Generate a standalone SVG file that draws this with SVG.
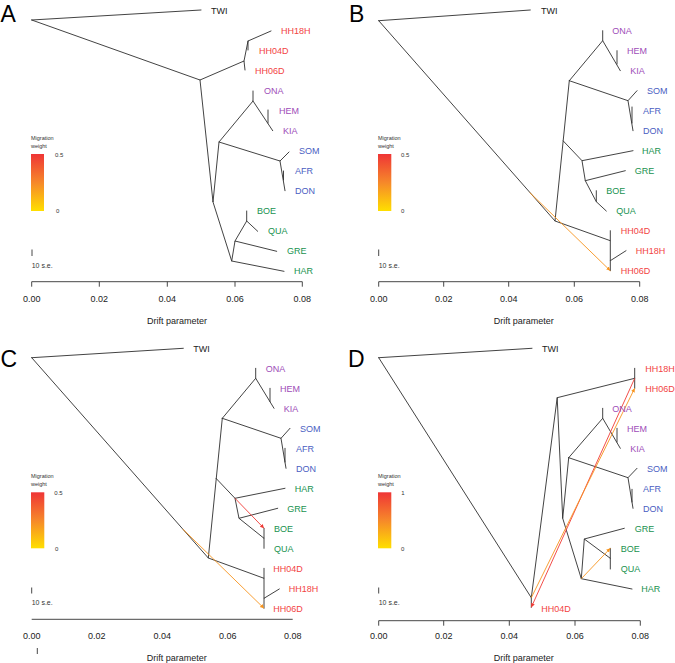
<svg xmlns="http://www.w3.org/2000/svg" width="675" height="663" viewBox="0 0 675 663">
<style>
text{font-family:"Liberation Sans",Arial,sans-serif;}
.e{stroke:#2e2e2e;stroke-width:0.9;fill:none;stroke-linecap:round;}
.ax{stroke:#333;stroke-width:0.9;fill:none;}
.mr{stroke:#F03A35;stroke-width:0.9;fill:none;marker-end:url(#ar);}
.mo{stroke:#F7941E;stroke-width:0.9;fill:none;marker-end:url(#ao);}
.big{font-size:23px;fill:#000;}
.lb{font-size:9px;}
.k{fill:#222;}
.r{fill:#F24343;}
.p{fill:#9E4DB8;}
.b{fill:#4A60C2;}
.g{fill:#18924F;}
.tk{font-size:9px;fill:#222;text-anchor:middle;}
.leg{font-size:5.5px;fill:#333;}
.lv{font-size:6px;fill:#333;}
.se{font-size:7px;fill:#333;}
</style>
<defs>
<linearGradient id="grad" x1="0" y1="0" x2="0" y2="1">
<stop offset="0" stop-color="#EF3536"/>
<stop offset="0.5" stop-color="#F6882A"/>
<stop offset="1" stop-color="#FFDF00"/>
</linearGradient>
<marker id="ar" markerWidth="5" markerHeight="5" refX="4" refY="2" orient="auto" markerUnits="userSpaceOnUse"><path d="M0,0 L4,2 L0,4 Z" fill="#F03A35"/></marker>
<marker id="ao" markerWidth="5" markerHeight="5" refX="4" refY="2" orient="auto" markerUnits="userSpaceOnUse"><path d="M0,0 L4,2 L0,4 Z" fill="#F7941E"/></marker>
</defs>

<!-- ================= PANEL A ================= -->
<g id="panelA">
<text class="big" x="0.5" y="21.5">A</text>
<g id="A-connectors">
<path class="e" d="M31.7,20 L201,10"/>
<path class="e" d="M31.7,20 L200,80 L244,61 L245,70"/>
<path class="e" d="M244,61 L248,41 L271,31 M248,41 L248,50"/>
<path class="e" d="M200,80 L213,202 L219,142 L253,101 L253,91 M253,101 L272.7,130.7 M268,110 L268,123"/>
<path class="e" d="M219,142 L280,161 L289,152 M280,161 L285,190.7 M283.5,171 L283.5,180"/>
<path class="e" d="M213,202 L231.7,261 L284,271.3 M231.7,261 L235,241 L276.7,251.3 M235,241 L246.7,221 L246.7,211 M246.7,221 L257.7,231.3"/>
</g>
<g id="A-TWI"><text class="lb k" x="211" y="13.7">TWI</text></g>
<g id="A-HH18H"><text class="lb r" x="281" y="34.2">HH18H</text></g>
<g id="A-HH04D"><text class="lb r" x="259" y="54.2">HH04D</text></g>
<g id="A-HH06D"><text class="lb r" x="255" y="74.2">HH06D</text></g>
<g id="A-ONA"><text class="lb p" x="264" y="94.2">ONA</text></g>
<g id="A-HEM"><text class="lb p" x="279" y="114.2">HEM</text></g>
<g id="A-KIA"><text class="lb p" x="283" y="134.2">KIA</text></g>
<g id="A-SOM"><text class="lb b" x="299" y="154.2">SOM</text></g>
<g id="A-AFR"><text class="lb b" x="295" y="174.2">AFR</text></g>
<g id="A-DON"><text class="lb b" x="295" y="194.2">DON</text></g>
<g id="A-BOE"><text class="lb g" x="257" y="214.2">BOE</text></g>
<g id="A-QUA"><text class="lb g" x="268" y="234.2">QUA</text></g>
<g id="A-GRE"><text class="lb g" x="287" y="254.2">GRE</text></g>
<g id="A-HAR"><text class="lb g" x="294" y="274.2">HAR</text></g>
<g id="A-legend">
<text class="leg" x="31" y="140">Migration</text>
<text class="leg" x="31" y="148">weight</text>
<rect x="31" y="154" width="13" height="57" fill="url(#grad)"/>
<text class="lv" x="55" y="157">0.5</text>
<text class="lv" x="56" y="213">0</text>
<line class="ax" x1="32" y1="249.5" x2="32" y2="256"/>
<text class="se" x="31.7" y="267.5">10 s.e.</text>
</g>
<g id="A-axis">
<path class="ax" d="M31.7,281.7 H302.3 M31.7,281.7 v5 M99.3,281.7 v5 M167.3,281.7 v5 M235,281.7 v5 M302.3,281.7 v5"/>
<text class="tk" x="31.7" y="301.5">0.00</text>
<text class="tk" x="99.3" y="301.5">0.02</text>
<text class="tk" x="167.3" y="301.5">0.04</text>
<text class="tk" x="235" y="301.5">0.06</text>
<text class="tk" x="302.3" y="301.5">0.08</text>
<text class="tk" x="177" y="324">Drift parameter</text>
</g>
</g>

<!-- ================= PANEL B ================= -->
<g id="panelB">
<text class="big" x="349" y="21.5">B</text>
<g id="B-connectors">
<path class="e" d="M378.7,20.7 L530.3,10"/>
<path class="e" d="M378.7,20.7 L555,221 L569.3,80.7"/>
<path class="e" d="M569.3,80.7 L602.7,40.7 L602.7,30.7 M602.7,40.7 L620.3,70.7 M617,50.7 L617,64"/>
<path class="e" d="M569.3,80.7 L628,100.7 L637,90.7 M628,100.7 L633,130.7 M632,107 L632,123"/>
<path class="e" d="M563.3,141 L582,160.7 L633,150.7 M582,160.7 L585.3,180.7 L625.3,170.7 M585.3,180.7 L596.3,201.7 L596.3,190.7 M596.3,201.7 L606.3,211"/>
<path class="e" d="M555,221 L610.3,240.7 L610.3,230.7 M610.3,240.7 L610.3,260.7 L626,250.7 M610.3,260.7 L610.3,270.7"/>
</g>
<g id="B-migration">
<path class="mo" d="M529.7,192.5 L610.3,270.7"/>
</g>
<g id="B-TWI"><text class="lb k" x="541" y="13.7">TWI</text></g>
<g id="B-ONA"><text class="lb p" x="612.3" y="33.9">ONA</text></g>
<g id="B-HEM"><text class="lb p" x="627" y="53.9">HEM</text></g>
<g id="B-KIA"><text class="lb p" x="630.3" y="73.9">KIA</text></g>
<g id="B-SOM"><text class="lb b" x="647" y="93.9">SOM</text></g>
<g id="B-AFR"><text class="lb b" x="643" y="113.9">AFR</text></g>
<g id="B-DON"><text class="lb b" x="643" y="133.9">DON</text></g>
<g id="B-HAR"><text class="lb g" x="642" y="153.9">HAR</text></g>
<g id="B-GRE"><text class="lb g" x="634.7" y="173.9">GRE</text></g>
<g id="B-BOE"><text class="lb g" x="606.3" y="194.2">BOE</text></g>
<g id="B-QUA"><text class="lb g" x="616.3" y="214.2">QUA</text></g>
<g id="B-HH04D"><text class="lb r" x="620.7" y="234.2">HH04D</text></g>
<g id="B-HH18H"><text class="lb r" x="635.7" y="254.2">HH18H</text></g>
<g id="B-HH06D"><text class="lb r" x="620.7" y="274.2">HH06D</text></g>
<g id="B-legend">
<text class="leg" x="378" y="140">Migration</text>
<text class="leg" x="378" y="148">weight</text>
<rect x="378" y="154" width="13.3" height="57" fill="url(#grad)"/>
<text class="lv" x="401" y="157">0.5</text>
<text class="lv" x="401" y="213">0</text>
<line class="ax" x1="378.7" y1="249.5" x2="378.7" y2="256"/>
<text class="se" x="378.7" y="267.5">10 s.e.</text>
</g>
<g id="B-axis">
<path class="ax" d="M378.7,281.7 H639.7 M378.7,281.7 v5 M443.7,281.7 v5 M508.7,281.7 v5 M574.3,281.7 v5 M639.7,281.7 v5"/>
<text class="tk" x="378.7" y="301.5">0.00</text>
<text class="tk" x="443.7" y="301.5">0.02</text>
<text class="tk" x="508.7" y="301.5">0.04</text>
<text class="tk" x="574.3" y="301.5">0.06</text>
<text class="tk" x="639.7" y="301.5">0.08</text>
<text class="tk" x="523.7" y="324">Drift parameter</text>
</g>
</g>

<!-- ================= PANEL C ================= -->
<g id="panelC">
<text class="big" x="0.5" y="366.7">C</text>
<g id="C-connectors">
<path class="e" d="M31.7,357.7 L183.3,348.3"/>
<path class="e" d="M31.7,357.7 L208.3,558 L222.3,418.3"/>
<path class="e" d="M222.3,418.3 L255.7,378.3 L255.7,368.3 M255.7,378.3 L274,408.3 M270,388.3 L270,401.5"/>
<path class="e" d="M222.3,418.3 L281,438.3 L290,428.3 M281,438.3 L286,468.3 M285,448.3 L285,462"/>
<path class="e" d="M216,478.3 L235,498.3 L285,488.3 M235,498.3 L239,518.3 L277.7,508.3 M239,518.3 L264,538.3 L264,528.3 M264,538.3 L264,548.3"/>
<path class="e" d="M208.3,558 L264,578.3 L264,568.3 M264,578.3 L264,598.3 L279.3,589 M264,598.3 L264,608.3"/>
</g>
<g id="C-migration">
<path class="mr" d="M235,498.3 L264,528.3"/>
<path class="mo" d="M182.7,529 L264,608.3"/>
</g>
<g id="C-TWI"><text class="lb k" x="193.3" y="351.5">TWI</text></g>
<g id="C-ONA"><text class="lb p" x="265.7" y="371.5">ONA</text></g>
<g id="C-HEM"><text class="lb p" x="280" y="391.5">HEM</text></g>
<g id="C-KIA"><text class="lb p" x="283.7" y="411.5">KIA</text></g>
<g id="C-SOM"><text class="lb b" x="300" y="431.5">SOM</text></g>
<g id="C-AFR"><text class="lb b" x="296" y="451.5">AFR</text></g>
<g id="C-DON"><text class="lb b" x="296" y="471.5">DON</text></g>
<g id="C-HAR"><text class="lb g" x="294.7" y="491.5">HAR</text></g>
<g id="C-GRE"><text class="lb g" x="287.3" y="511.5">GRE</text></g>
<g id="C-BOE"><text class="lb g" x="274" y="532">BOE</text></g>
<g id="C-QUA"><text class="lb g" x="274" y="551.8">QUA</text></g>
<g id="C-HH04D"><text class="lb r" x="273.3" y="572">HH04D</text></g>
<g id="C-HH18H"><text class="lb r" x="288.7" y="592">HH18H</text></g>
<g id="C-HH06D"><text class="lb r" x="273.3" y="611.8">HH06D</text></g>
<g id="C-legend">
<text class="leg" x="31" y="477.5">Migration</text>
<text class="leg" x="31" y="485.7">weight</text>
<rect x="31" y="492.3" width="13.3" height="56" fill="url(#grad)"/>
<text class="lv" x="54.3" y="495">0.5</text>
<text class="lv" x="55" y="551">0</text>
<line class="ax" x1="31.7" y1="587.5" x2="31.7" y2="593.5"/>
<text class="se" x="31.7" y="605">10 s.e.</text>
</g>
<g id="C-axis">
<path class="ax" d="M31.7,619.3 H292.7"/>
<text class="tk" x="31.7" y="639.2">0.00</text>
<text class="tk" x="96.7" y="639.2">0.02</text>
<text class="tk" x="162.3" y="639.2">0.04</text>
<text class="tk" x="227.7" y="639.2">0.06</text>
<text class="tk" x="292.7" y="639.2">0.08</text>
<line class="ax" x1="37.3" y1="648" x2="37.3" y2="654"/>
<text class="tk" x="176.7" y="661">Drift parameter</text>
</g>
</g>

<!-- ================= PANEL D ================= -->
<g id="panelD">
<text class="big" x="348" y="366.7">D</text>
<g id="D-connectors">
<path class="e" d="M378.7,357.7 L532,348.3"/>
<path class="e" d="M378.7,357.7 L531.3,597.7 L531.3,607.3 M531.3,597.7 L557.2,397.7 L634.7,378.3 L634.7,368.3 M634.7,378.3 L634.7,388.3"/>
<path class="e" d="M557.2,397.7 L562.7,518.3 L568.7,457.7"/>
<path class="e" d="M568.7,457.7 L602.7,418.3 L602.7,408.3 M602.7,418.3 L620.3,448.3 M617,428.3 L617,442"/>
<path class="e" d="M568.7,457.7 L628,477.7 L637,468.3 M628,477.7 L633,508.3 M632,489.3 L632,502"/>
<path class="e" d="M562.7,518.3 L581.3,578.7 L632,589 M581.3,578.7 L584.3,539 L624.3,528.3 M584.3,539 L610.3,558.3 L610.3,548.3 M610.3,558.3 L610.3,569"/>
</g>
<g id="D-migration">
<path class="mr" d="M634.7,378.3 L531.3,607.3"/>
<path class="mo" d="M531.3,597.7 L634.7,388.3"/>
<path class="mo" d="M581.3,578.7 L610.3,548.3"/>
</g>
<g id="D-TWI"><text class="lb k" x="542" y="351.5">TWI</text></g>
<g id="D-HH18H"><text class="lb r" x="645.3" y="371.5">HH18H</text></g>
<g id="D-HH06D"><text class="lb r" x="645.3" y="391.5">HH06D</text></g>
<g id="D-ONA"><text class="lb p" x="612.3" y="411.5">ONA</text></g>
<g id="D-HEM"><text class="lb p" x="627" y="431.5">HEM</text></g>
<g id="D-KIA"><text class="lb p" x="630.3" y="451.5">KIA</text></g>
<g id="D-SOM"><text class="lb b" x="647" y="471.5">SOM</text></g>
<g id="D-AFR"><text class="lb b" x="643" y="491.5">AFR</text></g>
<g id="D-DON"><text class="lb b" x="643" y="511.5">DON</text></g>
<g id="D-GRE"><text class="lb g" x="634.7" y="532">GRE</text></g>
<g id="D-BOE"><text class="lb g" x="620.7" y="552">BOE</text></g>
<g id="D-QUA"><text class="lb g" x="620.7" y="572">QUA</text></g>
<g id="D-HAR"><text class="lb g" x="641.3" y="592">HAR</text></g>
<g id="D-HH04D"><text class="lb r" x="541.3" y="611.5">HH04D</text></g>
<g id="D-legend">
<text class="leg" x="378" y="477.5">Migration</text>
<text class="leg" x="378" y="485.7">weight</text>
<rect x="378" y="492.3" width="13.3" height="56" fill="url(#grad)"/>
<text class="lv" x="401.3" y="495">1</text>
<text class="lv" x="401" y="551">0</text>
<line class="ax" x1="378.7" y1="587.5" x2="378.7" y2="593.5"/>
<text class="se" x="378.7" y="605">10 s.e.</text>
</g>
<g id="D-axis">
<path class="ax" d="M378.7,620.7 H640.3 M378.7,620.7 v5 M443.7,620.7 v5 M509.3,620.7 v5 M575,620.7 v5 M640.3,620.7 v5"/>
<text class="tk" x="378.7" y="639.2">0.00</text>
<text class="tk" x="443.7" y="639.2">0.02</text>
<text class="tk" x="509.3" y="639.2">0.04</text>
<text class="tk" x="575" y="639.2">0.06</text>
<text class="tk" x="640.3" y="639.2">0.08</text>
<text class="tk" x="523.7" y="661">Drift parameter</text>
</g>
</g>
</svg>
